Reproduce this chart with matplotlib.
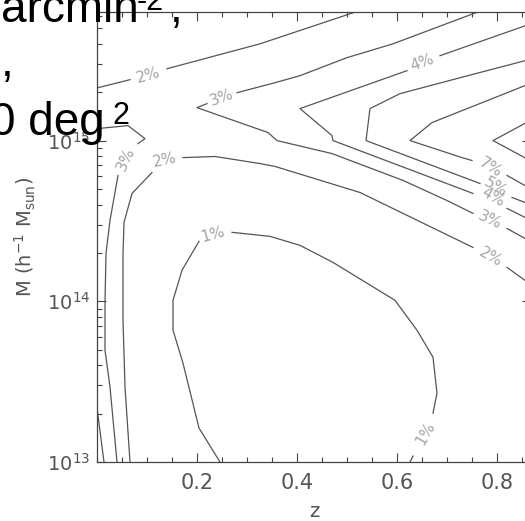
import numpy as np
import matplotlib.pyplot as plt
from matplotlib.ticker import FixedLocator, MultipleLocator, LogLocator, NullFormatter

nan = np.nan

# contour lines: redshift z and log10(M); nan = gap left for a label
one_z = [0.246, 0.204, 0.172, 0.152, 0.152, 0.170, 0.204, nan, 0.270, 0.346, 0.406,
         0.472, 0.596, 0.640, 0.672, 0.680, 0.672, nan, 0.632, 0.626]
one_logm = [13.000, 13.211, 13.615, 13.820, 14.006, 14.193, 14.373, nan, 14.429, 14.404, 14.348,
            14.242, 14.006, 13.820, 13.652, 13.429, 13.304, nan, 13.037, 13.000]

two_a_z = [0.002, 0.066, nan, 0.140, 0.326, 0.512, 0.526]
two_a_logm = [15.329, 15.379, nan, 15.447, 15.602, 15.795, 15.814]

two_b_z = [0.066, 0.056, 0.052, 0.052, 0.054, 0.070, 0.110, nan, 0.172, 0.236, 0.326,
           0.356, 0.526, 0.752, nan, 0.820, 0.856, 0.896]
two_b_logm = [13.000, 13.466, 13.882, 14.298, 14.491, 14.671, 14.801, nan, 14.894, 14.901, 14.857,
              14.839, 14.677, 14.335, nan, 14.211, 14.130, 14.056]

three_a_z = [0.040, 0.026, 0.016, 0.016, 0.018, 0.026, 0.042, nan, 0.082, 0.096, 0.062, 0.022, 0.002]
three_a_logm = [13.000, 13.466, 13.696, 13.988, 14.298, 14.503, 14.783, nan, 14.981, 15.012,
                15.093, 15.081, 15.075]

three_b_z = [0.786, 0.752, 0.592, 0.500, 0.406, 0.356, 0.280, nan, 0.220, 0.200, 0.342, 0.360,
             0.470, 0.612, 0.700, 0.752, nan, 0.820, 0.856, 0.896]
three_b_logm = [15.826, 15.789, 15.602, 15.516, 15.404, 15.360, 15.298, nan, 15.230, 15.205, 15.050,
                15.000, 14.919, 14.752, 14.627, 14.547, nan, 14.453, 14.391, 14.323]

four_a_z = [-0.002, 0.014]
four_a_logm = [13.385, 13.000]

four_b_z = [0.926, 0.856, 0.686, nan, 0.620, 0.406, 0.470, 0.472, 0.752, nan, 0.820, 0.856, 0.896]
four_b_logm = [15.795, 15.714, 15.528, nan, 15.435, 15.199, 15.031, 15.000, 14.671, nan,
               14.578, 14.522, 14.460]

five_z = [0.896, 0.856, 0.726, 0.606, 0.546, 0.538, 0.766, nan, 0.830, 0.856, 0.896]
five_logm = [15.534, 15.497, 15.391, 15.292, 15.199, 15.000, 14.733, nan, 14.646, 14.615, 14.565]

seven_z = [0.896, 0.856, 0.670, 0.626, 0.730, 0.750, nan, 0.820, 0.856, 0.896]
seven_logm = [15.385, 15.342, 15.112, 15.000, 14.894, 14.876, nan, 14.783, 14.720, 14.658]

ten_z = [0.896, 0.792, 0.896]
ten_logm = [15.174, 15.000, 14.826]

# contour labels
label_text = ["1%", "1%", "2%", "2%", "2%", "3%", "3%", "3%", "4%", "4%", "5%", "7%"]
label_z = [0.232, 0.656, 0.102, 0.136, 0.788, 0.058, 0.250, 0.786, 0.650, 0.792, 0.798, 0.786]
label_logm = [14.416, 13.180, 15.404, 14.876, 14.273, 14.888, 15.267, 14.503, 15.484, 14.646,
              14.708, 14.832]
label_rot = [15, 60, 16, 12, -30, 65, 20, -25, 20, -30, -30, -32]

x_ticks = [0.2, 0.4, 0.6, 0.8]


def main():
    W, H = 525, 521
    fig = plt.figure(figsize=(W / 100, H / 100), dpi=100)
    ax = fig.add_axes([97 / W, 59 / H, 434 / W, 450 / H])

    lines = [
        (one_z, one_logm), (two_a_z, two_a_logm), (two_b_z, two_b_logm),
        (three_a_z, three_a_logm), (three_b_z, three_b_logm),
        (four_a_z, four_a_logm), (four_b_z, four_b_logm),
        (five_z, five_logm), (seven_z, seven_logm), (ten_z, ten_logm),
    ]
    for z, logm in lines:
        ax.plot(z, 10 ** np.array(logm), color="#555555", lw=0.9)

    for txt, z, lm, rot in zip(label_text, label_z, label_logm, label_rot):
        ax.text(z, 10 ** lm, txt, rotation=rot, rotation_mode="anchor",
                ha="center", va="center", color="#a5a5a5", fontsize=11)

    ax.set_yscale("log")
    ax.set_xlim(0.0, 0.868)
    ax.set_ylim(1e13, 10 ** 15.8)

    ax.xaxis.set_major_locator(FixedLocator(x_ticks))
    ax.xaxis.set_minor_locator(MultipleLocator(0.05))
    ax.yaxis.set_major_locator(LogLocator(base=10))
    ax.yaxis.set_minor_locator(LogLocator(base=10, subs=np.arange(2, 10)))
    ax.yaxis.set_minor_formatter(NullFormatter())

    ax.tick_params(which="both", direction="in", top=True, right=True,
                   color="#444444", width=0.8, labelcolor="#555555")
    ax.tick_params(which="major", length=6.5)
    ax.tick_params(which="minor", length=3.5)
    ax.tick_params(axis="x", labelsize=15, pad=8)
    ax.tick_params(axis="y", labelsize=14, pad=5)
    for s in ax.spines.values():
        s.set_color("#444444")
        s.set_linewidth(0.9)

    ax.set_xlabel("z", fontsize=14, color="#555555")
    ax.xaxis.set_label_coords(0.5, -0.088)
    ax.set_ylabel(r"M (h$^{-1}$ M$_{\rm sun}$)", fontsize=14, color="#555555")
    ax.yaxis.set_label_coords(-0.136, 0.5)

    # slide text overlapping the chart
    font = dict(family="Liberation Sans", color="black", va="baseline", ha="left")
    fig.text(1 / W, 1 - 22 / H, "arcmin", fontsize=33, **font)
    fig.text(137 / W, 1 - 10 / H, "-2", fontsize=22, **font)
    fig.text(170 / W, 1 - 22 / H, ",", fontsize=33, **font)
    fig.text(1 / W, 1 - 76 / H, ",", fontsize=33, **font)
    fig.text(-10 / W, 1 - 135 / H, "0 deg", fontsize=33, **font)
    fig.text(112 / W, 1 - 124 / H, "2", fontsize=22, **font)

    fig.savefig("out.png", dpi=100)
    plt.close(fig)


if __name__ == "__main__":
    main()
